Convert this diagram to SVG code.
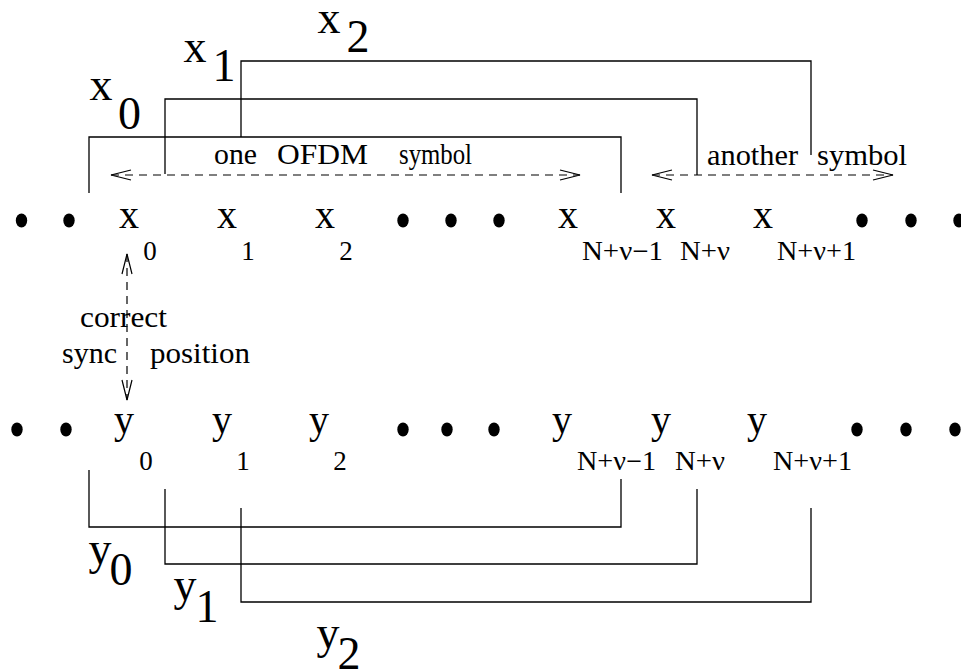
<svg xmlns="http://www.w3.org/2000/svg" width="961" height="671" viewBox="0 0 961 671">
<defs>
<style>
text{font-family:"Liberation Serif","Times New Roman",serif;fill:#000}
.big{font-size:46px;text-anchor:middle}
.sym{font-size:40px;text-anchor:middle}
.sub{font-size:27px;text-anchor:middle}
.lbl{font-size:30px}
.ln{fill:none;stroke:#000;stroke-width:1.3}
.dash{fill:none;stroke:#000;stroke-width:1.2;stroke-dasharray:8 6}
.dot{fill:#000}
</style>
<marker id="ah" markerUnits="userSpaceOnUse" markerWidth="24" markerHeight="14" viewBox="-22 -7 24 14" refX="0" refY="0" orient="auto-start-reverse" overflow="visible">
<path d="M-20,-5 L0,0 L-20,5" fill="none" stroke="#000" stroke-width="1.2"/>
</marker>
</defs>
<rect width="961" height="671" fill="#fff"/>

<g id="connectors">
<path class="ln" d="M89,193 V137 H621 V193"/>
<path class="ln" d="M165,174 V99 H697 V175"/>
<path class="ln" d="M241,137 V61 H811 V155"/>
<path class="dash" d="M111,175 H580" marker-start="url(#ah)" marker-end="url(#ah)"/>
<path class="dash" d="M652,175 H893" marker-start="url(#ah)" marker-end="url(#ah)"/>
<path class="dash" d="M127,254 V400" marker-start="url(#ah)" marker-end="url(#ah)"/>
<path class="ln" d="M89,470 V527 H621 V479"/>
<path class="ln" d="M165,489 V564 H697 V489"/>
<path class="ln" d="M241,508 V602 H811 V508"/>
</g>

<g id="top-labels">
<text class="big" x="101" y="100">x</text><text class="big" x="129.5" y="129">0</text>
<text class="big" x="195" y="62">x</text><text class="big" x="224" y="81">1</text>
<text class="big" x="329" y="33">x</text><text class="big" x="358" y="52">2</text>
</g>

<g id="symbol-labels">
<text class="lbl" x="214" y="164" textLength="43" lengthAdjust="spacingAndGlyphs">one</text>
<text class="lbl" x="277" y="164" textLength="91" lengthAdjust="spacingAndGlyphs">OFDM</text>
<text class="lbl" x="399" y="164" textLength="73" lengthAdjust="spacingAndGlyphs">symbol</text>
<text class="lbl" x="707" y="165" textLength="91" lengthAdjust="spacingAndGlyphs">another</text>
<text class="lbl" x="817" y="165" textLength="90" lengthAdjust="spacingAndGlyphs">symbol</text>
</g>

<g id="x-row">
<ellipse class="dot" cx="21.5" cy="220.5" rx="5.7" ry="7"/>
<ellipse class="dot" cx="69" cy="220.5" rx="5.7" ry="7"/>
<text class="sym" x="129" y="228">x</text>
<text class="sym" x="227" y="228">x</text>
<text class="sym" x="325" y="228">x</text>
<ellipse class="dot" cx="403" cy="220.5" rx="5.7" ry="7"/>
<ellipse class="dot" cx="451" cy="220.5" rx="5.7" ry="7"/>
<ellipse class="dot" cx="499" cy="220.5" rx="5.7" ry="7"/>
<text class="sym" x="568" y="228">x</text>
<text class="sym" x="666" y="228">x</text>
<text class="sym" x="763" y="228">x</text>
<ellipse class="dot" cx="862" cy="220.5" rx="5.7" ry="7"/>
<ellipse class="dot" cx="911" cy="220.5" rx="5.7" ry="7"/>
<ellipse class="dot" cx="959" cy="220.5" rx="5.7" ry="7"/>
<text class="sub" x="150" y="260">0</text>
<text class="sub" x="248" y="260">1</text>
<text class="sub" x="346" y="260">2</text>
<text class="sub" x="622.5" y="260" textLength="81" lengthAdjust="spacingAndGlyphs">N+ν−1</text>
<text class="sub" x="705" y="260" textLength="50" lengthAdjust="spacingAndGlyphs">N+ν</text>
<text class="sub" x="816.5" y="260" textLength="79" lengthAdjust="spacingAndGlyphs">N+ν+1</text>
</g>

<g id="sync-label">
<text class="lbl" x="80" y="327" textLength="87" lengthAdjust="spacingAndGlyphs">correct</text>
<text class="lbl" x="62" y="363" textLength="55" lengthAdjust="spacingAndGlyphs">sync</text>
<text class="lbl" x="150" y="363" textLength="100" lengthAdjust="spacingAndGlyphs">position</text>
</g>

<g id="y-row">
<ellipse class="dot" cx="17" cy="429.5" rx="5.7" ry="7"/>
<ellipse class="dot" cx="66" cy="429.5" rx="5.7" ry="7"/>
<text class="sym" x="124" y="433">y</text>
<text class="sym" x="222" y="433">y</text>
<text class="sym" x="319" y="433">y</text>
<ellipse class="dot" cx="403" cy="429.5" rx="5.7" ry="7"/>
<ellipse class="dot" cx="447" cy="429.5" rx="5.7" ry="7"/>
<ellipse class="dot" cx="494" cy="429.5" rx="5.7" ry="7"/>
<text class="sym" x="562" y="433">y</text>
<text class="sym" x="661" y="433">y</text>
<text class="sym" x="757" y="433">y</text>
<ellipse class="dot" cx="857" cy="429.5" rx="5.7" ry="7"/>
<ellipse class="dot" cx="906" cy="429.5" rx="5.7" ry="7"/>
<ellipse class="dot" cx="955" cy="429.5" rx="5.7" ry="7"/>
<text class="sub" x="146" y="470">0</text>
<text class="sub" x="243" y="470">1</text>
<text class="sub" x="340" y="470">2</text>
<text class="sub" x="616.5" y="470" textLength="79" lengthAdjust="spacingAndGlyphs">N+ν−1</text>
<text class="sub" x="700" y="470" textLength="50" lengthAdjust="spacingAndGlyphs">N+ν</text>
<text class="sub" x="812.5" y="470" textLength="79" lengthAdjust="spacingAndGlyphs">N+ν+1</text>
</g>

<g id="bottom-labels">
<text class="big" x="100" y="564">y</text><text class="big" x="121" y="585">0</text>
<text class="big" x="185" y="600">y</text><text class="big" x="207" y="622">1</text>
<text class="big" x="328" y="648">y</text><text class="big" x="349" y="669">2</text>
</g>
</svg>
